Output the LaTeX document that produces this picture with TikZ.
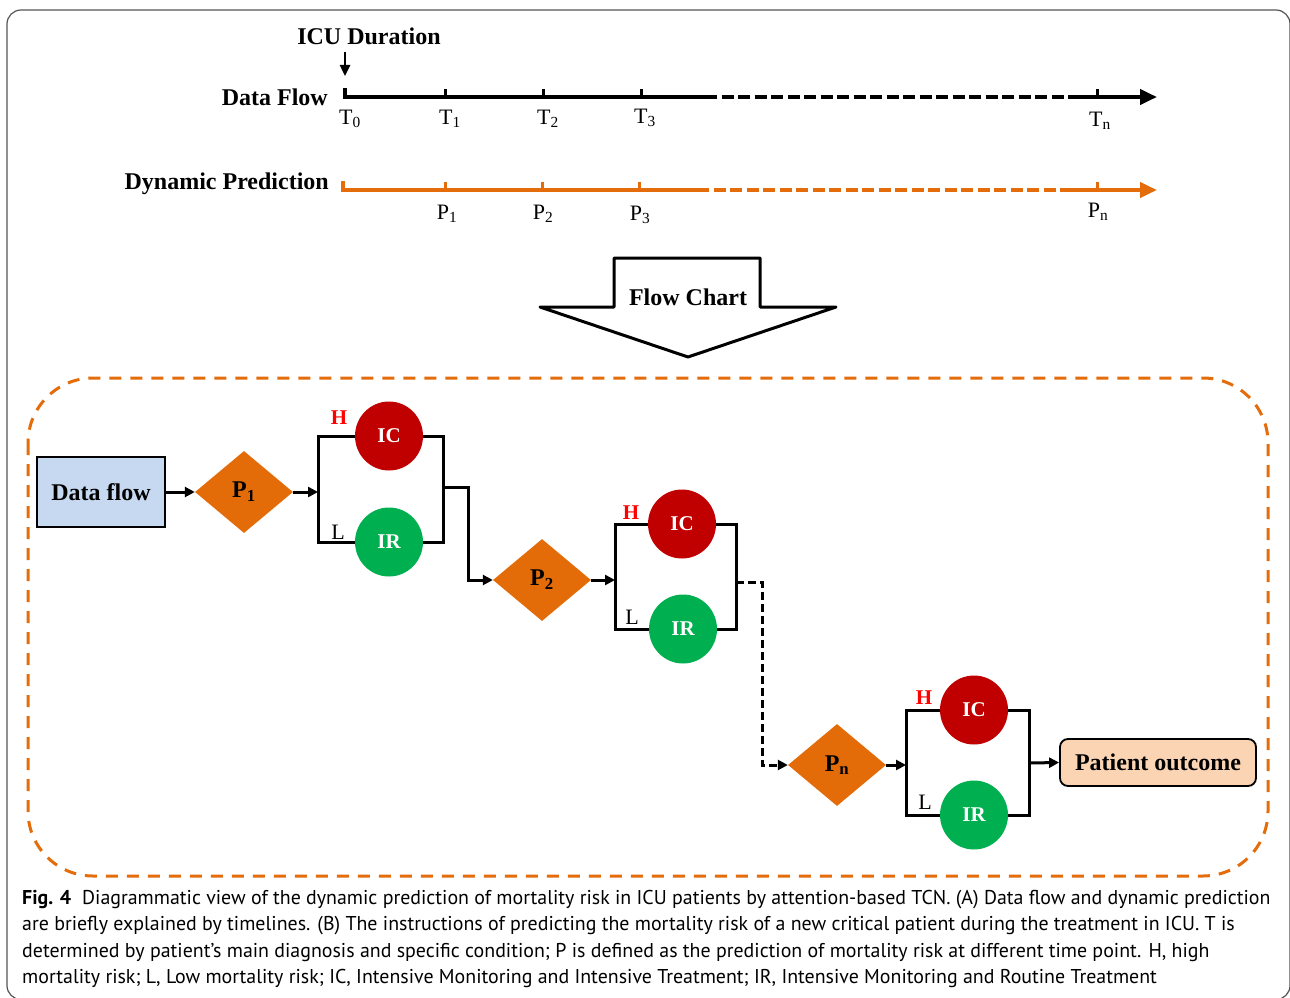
\documentclass[tikz,border=0pt]{standalone}
\usepackage{fontspec}
\setmainfont{Liberation Serif}
\newfontfamily\capfont{PT Sans}
\usetikzlibrary{arrows.meta,shapes.geometric}
\definecolor{orT}{HTML}{E46C0A}
\definecolor{orD}{HTML}{E36C09}
\definecolor{dfblue}{HTML}{C6D9F1}
\definecolor{peach}{HTML}{FBD4B4}
\definecolor{icred}{HTML}{C00000}
\definecolor{irgreen}{HTML}{00B050}
\definecolor{hred}{HTML}{FF0000}
\definecolor{capcol}{HTML}{231F20}
\definecolor{framegray}{HTML}{555555}
\newsavebox\capA \newsavebox\capB \newsavebox\capC \newsavebox\capD
\newcommand\capsz{\capfont\fontsize{20}{24}\selectfont}
\AtBeginDocument{%
\sbox\capA{\capsz\textbf{Fig. 4}\hspace{0.55em}Diagrammatic view of the dynamic prediction of mortality risk in ICU patients by attention-based TCN. (A) Data flow and dynamic prediction}%
\sbox\capB{\capsz are briefly explained by timelines. (B) The instructions of predicting the mortality risk of a new critical patient during the treatment in ICU. T is}%
\sbox\capC{\capsz determined by patient’s main diagnosis and specific condition; P is defined as the prediction of mortality risk at different time point. H, high}%
\sbox\capD{\capsz mortality risk; L, Low mortality risk; IC, Intensive Monitoring and Intensive Treatment; IR, Intensive Monitoring and Routine Treatment}%
}
\newcommand\capfit[1]{\resizebox{\dimexpr\wd#1*1248/\numexpr\wd\capA/65536\relax\relax}{\height}{\usebox#1}}
\tikzset{
  bigbf/.style={font=\bfseries\fontsize{24}{26}\selectfont, inner sep=0pt},
  tlab/.style={font=\fontsize{22}{24}\selectfont, inner sep=0pt},
  tline/.style={line width=4.5pt},
  tickmark/.style={line width=3pt},
  conn/.style={line width=3pt, -{Triangle[length=10pt,width=10pt]}},
  brline/.style={line width=3pt},
  dfbox/.style={draw=black, line width=2pt, fill=dfblue, minimum width=128pt, minimum height=70pt, inner sep=0pt, font=\bfseries\fontsize{24}{26}\selectfont},
  outbox/.style={draw=black, line width=1.8pt, fill=peach, rounded corners=8pt, minimum width=196pt, minimum height=47pt, inner sep=0pt, font=\bfseries\fontsize{24}{26}\selectfont},
  dia/.style={diamond, fill=orD, minimum width=98pt, minimum height=82pt, inner sep=0pt, font=\bfseries\fontsize{24}{26}\selectfont},
  icnode/.style={ellipse, fill=icred, minimum width=68pt, minimum height=69pt, inner sep=0pt, text=white, font=\bfseries\fontsize{21}{22}\selectfont},
  irnode/.style={ellipse, fill=irgreen, minimum width=68pt, minimum height=69pt, inner sep=0pt, text=white, font=\bfseries\fontsize{21}{22}\selectfont},
  hlab/.style={text=hred, font=\bfseries\fontsize{21}{22}\selectfont, inner sep=0pt},
  llab/.style={text=black, font=\fontsize{22}{22}\selectfont, inner sep=0pt},
  capline/.style={anchor=base west, inner sep=0pt, text=capcol}
}
\begin{document}
\begin{tikzpicture}[x=1pt,y=-1pt]
\useasboundingbox (0,0) rectangle (1290,998);
% outer frame
\draw[framegray, line width=1.2pt, rounded corners=14pt] (7,10) rectangle (1290,999.5);

% ---------- timelines ----------
\node[bigbf] (icu) at (369,36) {ICU Duration};
\coordinate (arrS) at (345,52);
\coordinate (arrE) at (345,76);
\draw[line width=2.4pt, -{Triangle[length=11pt,width=10pt]}] (arrS) -- (arrE);

\node[bigbf, anchor=east] (dflab) at (328,97) {Data Flow};
\coordinate (a0) at (345,97);
\coordinate (a0t) at (345,88);
\coordinate (a1) at (705,97);
\coordinate (a2) at (1080,97);
\coordinate (a3) at (1157,97);
\draw[tline] (a0t) -- (a0) -- (a1);
\draw[tline, dash pattern=on 12pt off 4.5pt] (a1) -- (a2);
\draw[tline, -{Triangle[length=17pt,width=15pt]}] (a2) -- (a3);
\foreach \x/\n in {445/1,543/2,641/3,1097/n}{
  \coordinate (ta\n) at (\x,97);
  \coordinate (tb\n) at (\x,89);
  \draw[tickmark] (ta\n) -- (tb\n);
}
\node[tlab] (T0) at (350,119) {T\textsubscript{0}};
\node[tlab] (T1) at (450,119) {T\textsubscript{1}};
\node[tlab] (T2) at (548,119) {T\textsubscript{2}};
\node[tlab] (T3) at (645,118) {T\textsubscript{3}};
\node[tlab] (Tn) at (1100,121) {T\textsubscript{n}};

\node[bigbf, anchor=east] (dplab) at (329,184) {Dynamic Prediction};
\coordinate (b0) at (343,190);
\coordinate (b0t) at (343,181);
\coordinate (b1) at (697,190);
\coordinate (b2) at (1070,190);
\coordinate (b3) at (1157,190);
\draw[tline, orT] (b0t) -- (b0) -- (b1);
\draw[tline, orT, dash pattern=on 12pt off 4.5pt] (b1) -- (b2);
\draw[tline, orT, -{Triangle[length=17pt,width=15pt]}] (b2) -- (b3);
\foreach \x/\n in {445/1,542/2,639/3,1097/n}{
  \coordinate (pa\n) at (\x,190);
  \coordinate (pb\n) at (\x,182);
  \draw[tickmark, orT] (pa\n) -- (pb\n);
}
\node[tlab] (P1) at (447,214) {P\textsubscript{1}};
\node[tlab] (P2) at (543,214) {P\textsubscript{2}};
\node[tlab] (P3) at (640,215) {P\textsubscript{3}};
\node[tlab] (Pn) at (1098,212) {P\textsubscript{n}};

% ---------- flow chart arrow ----------
\coordinate (fa1) at (614,258);
\coordinate (fa2) at (760,258);
\coordinate (fa3) at (760,307);
\coordinate (fa4) at (836,307);
\coordinate (fa5) at (688,357);
\coordinate (fa6) at (540,307);
\coordinate (fa7) at (614,307);
\draw[line width=3pt, fill=white, line join=round] (fa1) -- (fa2) -- (fa3) -- (fa4) -- (fa5) -- (fa6) -- (fa7) -- cycle;
\node[bigbf] (fclab) at (688,297) {Flow Chart};

% ---------- dashed frame ----------
\draw[orT, line width=3pt, dash pattern=on 12pt off 9pt, rounded corners=65pt] (28,378) rectangle (1268,876);

% ---------- flow chart ----------
\node[dfbox] (df) at (101,492) {Data flow};
\node[dia] (p1) at (244,492) {P\textsubscript{1}};
\node[dia] (p2) at (542,580) {P\textsubscript{2}};
\node[dia] (pn) at (837,765) {P\textsubscript{n}};

\node[icnode] (ic1) at (389,436) {IC};
\node[irnode] (ir1) at (389,542) {IR};
\node[icnode] (ic2) at (682,524) {IC};
\node[irnode] (ir2) at (683,629) {IR};
\node[icnode] (ic3) at (974,710) {IC};
\node[irnode] (ir3) at (974,815) {IR};

\node[hlab] (h1) at (339,418) {H};
\node[llab] (l1) at (338,532) {L};
\node[hlab] (h2) at (631,513) {H};
\node[llab] (l2) at (632,617) {L};
\node[hlab] (h3) at (924,698) {H};
\node[llab] (l3) at (925,802) {L};

\node[outbox] (out) at (1158,762.5) {Patient outcome};

% group 1
\coordinate (bl1) at (318,492);
\coordinate (br1) at (443,487);
\coordinate (k1) at (468,487);
\draw[conn] (df.east) -- (p1.west);
\draw[conn] (p1.east) -- (bl1);
\draw[brline] (ic1.west) -- (ic1.west -| bl1) -- (ir1.west -| bl1) -- (ir1.west);
\draw[brline] (ic1.east) -- (ic1.east -| br1) -- (ir1.east -| br1) -- (ir1.east);
\draw[conn] (br1) -- (k1) |- (p2.west);

% group 2
\coordinate (bl2) at (615,580);
\coordinate (br2) at (736,582);
\coordinate (k2) at (762,582);
\draw[conn] (p2.east) -- (bl2);
\draw[brline] (ic2.west) -- (ic2.west -| bl2) -- (ir2.west -| bl2) -- (ir2.west);
\draw[brline] (ic2.east) -- (ic2.east -| br2) -- (ir2.east -| br2) -- (ir2.east);
\draw[conn, dash pattern=on 8pt off 4pt] (br2) -- (k2) |- (pn.west);

% group 3
\coordinate (bl3) at (906,765);
\coordinate (br3) at (1029,763);
\draw[conn] (pn.east) -- (bl3);
\draw[brline] (ic3.west) -- (ic3.west -| bl3) -- (ir3.west -| bl3) -- (ir3.west);
\draw[brline] (ic3.east) -- (ic3.east -| br3) -- (ir3.east -| br3) -- (ir3.east);
\draw[conn] (br3) -- (out.west);

% ---------- caption ----------
\node[capline] (cap1) at (22,904) {\capfit\capA};
\node[capline] (cap2) at (22,930) {\capfit\capB};
\node[capline] (cap3) at (22,957) {\capfit\capC};
\node[capline] (cap4) at (22,983) {\capfit\capD};
\end{tikzpicture}
\end{document}
